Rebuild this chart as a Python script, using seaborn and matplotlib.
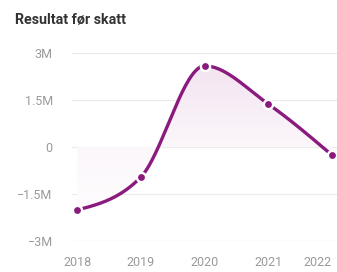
import numpy as np
import pandas as pd
import matplotlib
matplotlib.use("Agg")
import matplotlib.pyplot as plt
import seaborn as sns
from matplotlib.colors import LinearSegmentedColormap

# data
years = ["2018", "2019", "2020", "2021", "2022"]
resultat = [-2.01e6, -0.96e6, 2.59e6, 1.37e6, -0.26e6]
ytick_vals = [-3e6, -1.5e6, 0, 1.5e6, 3e6]
ytick_labels = ["\u22123M", "\u22121.5M", "0", "1.5M", "3M"]

purple = "#8a1a7e"
grid_col = "#ebebeb"
tick_col = "#9a9a9a"

sns.set_style("white")
plt.rcParams["font.family"] = ["Roboto", "DejaVu Sans"]


# monotone cubic (like d3 curveMonotoneX), only used to draw the line shape
def monotone_curve(x, y, n=60):
    x = np.asarray(x, float)
    y = np.asarray(y, float)
    h = np.diff(x)
    s = np.diff(y) / h
    t = np.zeros_like(y)
    for i in range(1, len(x) - 1):
        p = (s[i - 1] * h[i] + s[i] * h[i - 1]) / (h[i - 1] + h[i])
        t[i] = (np.sign(s[i - 1]) + np.sign(s[i])) * min(abs(s[i - 1]), abs(s[i]), 0.5 * abs(p))
    t[0] = (3 * s[0] - t[1]) / 2
    t[-1] = (3 * s[-1] - t[-2]) / 2
    xs, ys = [], []
    for i in range(len(x) - 1):
        u = np.linspace(0, 1, n, endpoint=(i == len(x) - 2))
        h00 = 2 * u**3 - 3 * u**2 + 1
        h10 = u**3 - 2 * u**2 + u
        h01 = -2 * u**3 + 3 * u**2
        h11 = u**3 - u**2
        xs.append(x[i] + u * h[i])
        ys.append(h00 * y[i] + h10 * h[i] * t[i] + h01 * y[i + 1] + h11 * h[i] * t[i + 1])
    return np.concatenate(xs), np.concatenate(ys)


df = pd.DataFrame({"pos": np.arange(len(years)), "resultat": resultat})
cx, cy = monotone_curve(df["pos"], df["resultat"])
curve = pd.DataFrame({"pos": cx, "resultat": cy})

fig = plt.figure(figsize=(3.37, 2.72), dpi=100)
ax = fig.add_axes([0.214, 0.114, 0.786, 0.691])

ax.set_xlim(-0.078, 4.078)
ax.set_ylim(-3e6, 3e6)

# area under the curve with a fading gradient (strong at top, white at bottom)
poly = ax.fill_between(curve["pos"], curve["resultat"], 0, color="none", lw=0)
grad_cmap = LinearSegmentedColormap.from_list("g", ["#ffffff", "#fcf7fb", "#f1e1ef"])
grad = np.linspace(0, 1, 256).reshape(-1, 1)
im = ax.imshow(grad, cmap=grad_cmap, origin="lower", aspect="auto",
               extent=[-0.078, 4.078, -3e6, 3e6], zorder=1, interpolation="bilinear")
im.set_clip_path(poly.get_paths()[0], transform=ax.transData)

sns.lineplot(data=curve, x="pos", y="resultat", color=purple, lw=2.4, ax=ax, zorder=3)
sns.scatterplot(data=df, x="pos", y="resultat", color=purple, s=44,
                edgecolor="white", linewidth=1.7, ax=ax, zorder=4, clip_on=False)

ax.set_xlim(-0.078, 4.078)
ax.set_ylim(-3e6, 3e6)
ax.set_yticks(ytick_vals)
ax.set_yticklabels(ytick_labels)
ax.set_xticks(df["pos"])
ax.set_xticklabels(years)
ax.grid(axis="y", color=grid_col, lw=0.9)
ax.set_axisbelow(True)
for sp in ax.spines.values():
    sp.set_visible(False)
ax.tick_params(axis="both", length=0, colors=tick_col, labelsize=9)
ax.tick_params(axis="y", pad=14)
ax.tick_params(axis="x", pad=11)
ax.set_xlabel("")
ax.set_ylabel("")
ax.get_xticklabels()[-1].set_ha("right")

fig.text(0.045, 0.925, "Resultat før skatt", fontsize=10.3, fontweight="bold",
         color="#333333", ha="left", va="center")

fig.savefig("out.png", dpi=100)
